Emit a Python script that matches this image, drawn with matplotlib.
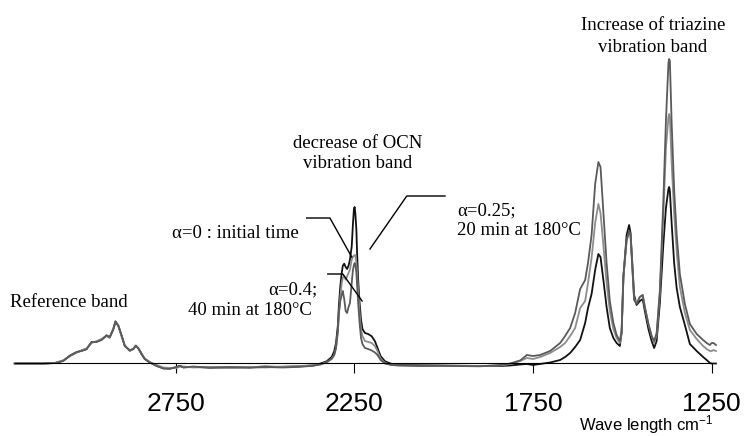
import matplotlib.pyplot as plt

plt.rcParams['font.family'] = 'Liberation Sans'
plt.rcParams['mathtext.fontset'] = 'custom'
plt.rcParams['mathtext.rm'] = 'Liberation Sans'
plt.rcParams['mathtext.default'] = 'regular'

# wave number (cm-1) and absorbance (a.u.)
wavenumber = [3200, 3120, 3087, 3064, 3045, 3027, 3013, 2999, 2985, 2971,
              2957, 2943, 2934, 2924, 2918, 2910, 2901, 2892, 2878, 2868,
              2861, 2854, 2845, 2836, 2822, 2803, 2784, 2766, 2747, 2738,
              2728, 2700, 2654, 2600, 2542, 2500, 2450, 2402, 2365, 2346,
              2327, 2313, 2306, 2301, 2296, 2293, 2289, 2285, 2282, 2278,
              2274, 2270, 2266, 2262, 2257, 2254, 2251, 2249, 2247, 2244,
              2242, 2239, 2235, 2231, 2227, 2220, 2211, 2201, 2192, 2185,
              2176, 2164, 2145, 2122, 2066, 2010, 1898, 1842, 1814, 1786,
              1767, 1750, 1730, 1702, 1674, 1660, 1646, 1632, 1618, 1604,
              1596, 1586, 1576, 1567, 1561, 1553, 1544, 1535, 1525, 1516,
              1507, 1502, 1497, 1488, 1481, 1477, 1471, 1467, 1460, 1451,
              1443, 1437, 1427, 1418, 1411, 1404, 1395, 1385, 1378, 1371,
              1369, 1367, 1362, 1355, 1348, 1339, 1325, 1311, 1292, 1274,
              1264, 1255, 1250, 1245, 1238]

alpha_0 = [-0.005, -0.005, 0.0, 0.023, 0.073, 0.107, 0.123, 0.14, 0.207, 0.213,
           0.233, 0.273, 0.257, 0.34, 0.413, 0.373, 0.273, 0.173, 0.123, 0.14,
           0.173, 0.147, 0.09, 0.04, 0.007, -0.027, -0.053, -0.053, -0.043, -0.027,
           -0.043, -0.04, -0.043, -0.045, -0.043, -0.035, -0.04, -0.033, -0.025, -0.007,
           0.017, 0.06, 0.117, 0.2, 0.367, 0.567, 0.767, 0.9, 0.973, 0.993,
           0.96, 0.94, 0.973, 1.033, 1.167, 1.367, 1.533, 1.56, 1.5, 1.333,
           1.1, 0.833, 0.6, 0.433, 0.34, 0.3, 0.29, 0.267, 0.217, 0.15,
           0.067, 0.017, -0.01, -0.02, -0.023, -0.025, -0.03, -0.03, -0.025, -0.015,
           -0.01, -0.02, -0.01, 0.005, 0.03, 0.06, 0.1, 0.16, 0.23, 0.4,
           0.55, 0.69, 0.93, 1.09, 1.06, 0.83, 0.56, 0.35, 0.25, 0.2,
           0.17, 0.3, 0.85, 1.28, 1.38, 1.3, 0.92, 0.68, 0.58, 0.62,
           0.64, 0.52, 0.34, 0.22, 0.15, 0.22, 0.6, 1.2, 1.55, 1.74,
           1.76, 1.72, 1.4, 1.0, 0.75, 0.56, 0.38, 0.19, 0.12, 0.06,
           0.03, 0.0, -0.005, -0.005, -0.005]

alpha_025 = [-0.005, -0.005, 0.0, 0.028, 0.068, 0.102, 0.128, 0.145, 0.2, 0.218,
             0.24, 0.27, 0.25, 0.345, 0.41, 0.378, 0.27, 0.178, 0.12, 0.145,
             0.17, 0.15, 0.095, 0.045, 0.01, -0.02, -0.045, -0.05, -0.05, -0.035,
             -0.035, -0.045, -0.04, -0.05, -0.038, -0.045, -0.035, -0.03, -0.023, -0.017,
             0.005, 0.04, 0.08, 0.15, 0.3, 0.48, 0.66, 0.8, 0.85, 0.867,
             0.833, 0.867, 0.9, 0.933, 1.033, 1.06, 1.073, 1.077, 1.08, 1.0,
             0.9, 0.733, 0.5, 0.333, 0.27, 0.22, 0.21, 0.2, 0.167, 0.12,
             0.04, 0.0, -0.02, -0.025, -0.027, -0.03, -0.03, -0.025, -0.01, 0.02,
             0.05, 0.04, 0.06, 0.1, 0.16, 0.2, 0.27, 0.35, 0.55, 0.62,
             0.8, 1.05, 1.4, 1.59, 1.5, 1.18, 0.8, 0.52, 0.34, 0.25,
             0.2, 0.3, 0.85, 1.22, 1.31, 1.27, 0.88, 0.64, 0.6, 0.66,
             0.68, 0.56, 0.39, 0.27, 0.2, 0.28, 0.7, 1.5, 2.15, 2.46,
             2.49, 2.46, 2.0, 1.5, 1.12, 0.76, 0.5, 0.33, 0.24, 0.17,
             0.14, 0.12, 0.12, 0.13, 0.12]

alpha_04 = [-0.005, -0.005, 0.0, 0.02, 0.076, 0.11, 0.12, 0.136, 0.21, 0.21,
            0.23, 0.278, 0.26, 0.335, 0.418, 0.37, 0.28, 0.17, 0.128, 0.14,
            0.175, 0.145, 0.09, 0.04, 0.005, -0.03, -0.055, -0.06, -0.04, -0.03,
            -0.045, -0.035, -0.05, -0.04, -0.048, -0.04, -0.045, -0.038, -0.028, -0.015,
            0.01, 0.045, 0.08, 0.15, 0.32, 0.5, 0.62, 0.68, 0.72, 0.64,
            0.52, 0.5, 0.56, 0.6, 0.8, 0.92, 0.98, 1.0, 0.99, 0.9,
            0.78, 0.6, 0.4, 0.25, 0.19, 0.15, 0.14, 0.125, 0.105, 0.08,
            0.03, -0.005, -0.02, -0.025, -0.03, -0.028, -0.033, -0.02, -0.005, 0.025,
            0.08, 0.07, 0.08, 0.12, 0.2, 0.27, 0.35, 0.5, 0.74, 0.83,
            1.0, 1.28, 1.79, 2.01, 1.96, 1.5, 1.0, 0.62, 0.4, 0.28,
            0.22, 0.32, 0.88, 1.23, 1.32, 1.29, 0.89, 0.63, 0.59, 0.66,
            0.68, 0.56, 0.39, 0.27, 0.22, 0.3, 0.72, 1.65, 2.42, 3.0,
            3.04, 3.02, 2.4, 1.73, 1.29, 0.89, 0.59, 0.39, 0.29, 0.23,
            0.2, 0.18, 0.2, 0.2, 0.18]

tick_values = [2750, 2250, 1750, 1250]

W, H = 746, 436
fig = plt.figure(figsize=(W / 100, H / 100), dpi=100)
ax = fig.add_axes([0, 0, 1, 1])
ax.set_xlim(3241, 1154)
ax.set_ylim(-0.73, 3.63)

ax.plot(wavenumber, alpha_0, color='#111111', lw=1.3)
ax.plot(wavenumber, alpha_025, color='#8c8c8c', lw=1.3)
ax.plot(wavenumber, alpha_04, color='#5a5a5a', lw=1.3)

for side in ['top', 'left', 'right']:
    ax.spines[side].set_visible(False)
ax.spines['bottom'].set_position(('data', 0))
ax.spines['bottom'].set_bounds(3200, 1250)
ax.spines['bottom'].set_linewidth(0.8)
ax.set_yticks([])
ax.set_xticks(tick_values)
ax.set_xticklabels([str(t) for t in tick_values])
ax.tick_params(axis='x', direction='out', length=7, width=0.8, pad=14,
               labelsize=19)
ax.patch.set_visible(False)

# leader lines of the annotations
ax.plot([2383, 2318, 2257], [1.45, 1.45, 1.06], color='black', lw=1)
ax.plot([2324, 2282, 2228], [0.89, 0.89, 0.62], color='black', lw=1)
ax.plot([1996, 2103, 2206], [1.67, 1.67, 1.14], color='black', lw=1)


def label(x, y, s, ha='left'):
    ax.text(x / W, 1 - y / H, s, transform=ax.transAxes, ha=ha,
            va='baseline', fontsize=13.5, family='Liberation Serif')


label(10, 307, 'Reference band')
label(358, 148, 'decrease of OCN', ha='center')
label(358, 168, 'vibration band', ha='center')
label(172, 238, 'α=0 : initial time')
label(268, 294, 'α=0.4;')
label(188, 315, '40 min at 180°C')
label(457, 215, 'α=0.25;')
label(457, 235, '20 min at 180°C')
label(653, 30, 'Increase of triazine', ha='center')
label(653, 51.7, 'vibration band', ha='center')

fig.text(713 / W, 1 - 430 / H, 'Wave length cm$^{-1}$', ha='right',
         va='baseline', fontsize=12)

fig.savefig('out.png', dpi=100)
